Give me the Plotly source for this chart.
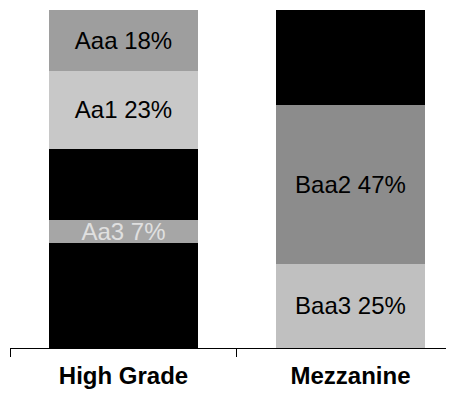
import plotly.graph_objects as go

categories = ["High Grade", "Mezzanine"]

# High Grade stack, bottom to top
hg_values = [31, 7, 21, 23, 18]
hg_labels = ["", "Aa3 7%", "", "Aa1 23%", "Aaa 18%"]
hg_colors = ["#000000", "#a6a6a6", "#000000", "#c8c8c8", "#9e9e9e"]
hg_text_colors = ["#000000", "#e0e0e0", "#000000", "#000000", "#000000"]

# Mezzanine stack, bottom to top
mz_values = [25, 47, 28]
mz_labels = ["Baa3 25%", "Baa2 47%", ""]
mz_colors = ["#c0c0c0", "#8c8c8c", "#000000"]
mz_text_colors = ["#000000", "#000000", "#000000"]

fig = go.Figure()

def add_stack(cat, values, labels, colors, tcolors):
    for v, lab, c, tc in zip(values, labels, colors, tcolors):
        fig.add_trace(go.Bar(
            x=[cat], y=[v], text=[lab],
            textposition="inside", insidetextanchor="middle",
            textangle=0, constraintext="none",
            textfont=dict(family="Liberation Sans", size=24, color=tc),
            marker=dict(color=c, line=dict(width=0)),
            width=0.66, showlegend=False, hoverinfo="skip",
        ))

add_stack(categories[0], hg_values, hg_labels, hg_colors, hg_text_colors)
add_stack(categories[1], mz_values, mz_labels, mz_colors, mz_text_colors)

fig.update_layout(
    barmode="stack",
    width=446, height=392,
    margin=dict(l=2, r=0, t=2, b=52),
    paper_bgcolor="white", plot_bgcolor="white",
    uniformtext=dict(minsize=24, mode="show"),
    xaxis=dict(
        type="category", range=[-0.5, 1.456],
        showline=True, linecolor="black", linewidth=1,
        ticks="outside", tickson="boundaries", ticklen=8, tickcolor="black",
        tickfont=dict(family="Liberation Sans", size=24, color="black", weight="bold"),
        ticklabelstandoff=6,
        showgrid=False, zeroline=False, automargin=False,
    ),
    yaxis=dict(range=[0, 100], visible=False, showgrid=False, zeroline=False),
)

fig.write_html("out.html")
